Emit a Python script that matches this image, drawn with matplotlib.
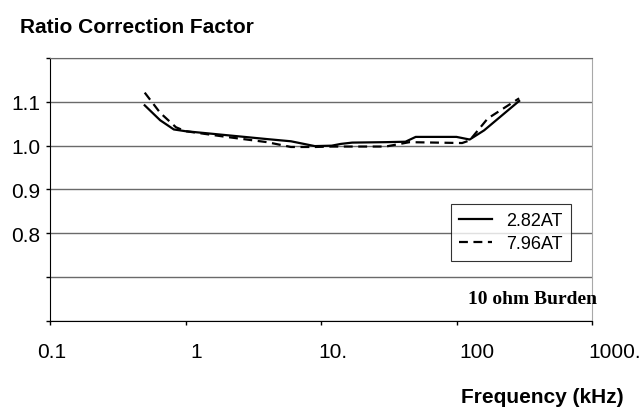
import matplotlib
matplotlib.use('Agg')
import matplotlib.pyplot as plt
from matplotlib.transforms import ScaledTranslation

# data
freq_a = [0.5, 0.65, 0.82, 1.0, 2.0, 4.0, 6.0, 9.0, 12, 14, 17, 30, 42, 50, 100, 125, 160, 290]
ratio_a = [1.092, 1.058, 1.037, 1.033, 1.024, 1.015, 1.010, 0.999, 1.000, 1.004, 1.007,
           1.008, 1.009, 1.020, 1.020, 1.014, 1.035, 1.102]

freq_b = [0.5, 0.65, 0.85, 1.0, 2.0, 4.0, 6.0, 9.0, 12, 30, 45, 110, 125, 170, 290]
ratio_b = [1.121, 1.075, 1.042, 1.033, 1.020, 1.008, 0.997, 0.997, 0.998, 0.998, 1.008,
           1.006, 1.012, 1.062, 1.108]

xticks = [0.1, 1, 10, 100, 1000]
xtick_labels = ['0.1', '1', '10.', '100', '1000.']
yticks = [0.6, 0.7, 0.8, 0.9, 1.0, 1.1, 1.2]
ytick_labels = ['', '', '0.8', '0.9', '1.0', '1.1', '']

plt.rcParams['font.family'] = ['Liberation Sans', 'DejaVu Sans']

fig = plt.figure(figsize=(6.42, 4.10), dpi=100)
ax = fig.add_axes([50/642, 1-322/410, 542/642, 263/410])

ax.plot(freq_a, ratio_a, color='black', lw=1.6, label='2.82AT')
ax.plot(freq_b, ratio_b, color='black', lw=1.6, dashes=(4, 2.5), label='7.96AT')

ax.set_xscale('log')
ax.set_xlim(0.1, 1000)
ax.set_ylim(0.6, 1.2)
ax.set_xticks(xticks)
ax.set_xticklabels(xtick_labels)
ax.minorticks_off()
ax.set_yticks(yticks)
ax.set_yticklabels(ytick_labels)
ax.tick_params(axis='both', labelsize=15, length=3, width=1, color='black')
ax.tick_params(axis='x', pad=12)
ax.tick_params(axis='y', pad=4)

# the labels in the original sit a bit right of their ticks
shift_px = [2, 11, 12, 20, 23]
for lab, dx in zip(ax.get_xticklabels(), shift_px):
    lab.set_transform(lab.get_transform() + ScaledTranslation(dx/100, 0, fig.dpi_scale_trans))

ax.grid(True, axis='y', color='#6a6a6a', lw=1)
ax.set_axisbelow(True)
ax.spines['top'].set_color('#6a6a6a')
ax.spines['right'].set_color('#a8a8a8')
ax.spines['left'].set_color('black')
ax.spines['bottom'].set_color('black')

leg = ax.legend(loc='upper left', bbox_to_anchor=(0.740, 0.445), borderaxespad=0,
                fontsize=13, frameon=True, fancybox=False, handlelength=1.8,
                borderpad=0.45, labelspacing=0.35)
leg.get_frame().set_edgecolor('black')
leg.get_frame().set_linewidth(0.8)

ax.text(0.891, 0.084, '10 ohm Burden', transform=ax.transAxes, ha='center', va='center',
        fontsize=14, fontweight='bold', family=['Liberation Serif', 'DejaVu Serif'])

fig.text(20/642, 1-27.5/410, 'Ratio Correction Factor', fontsize=15, fontweight='bold',
         ha='left', va='center')
fig.text(624/642, 1-398/410, 'Frequency (kHz)', fontsize=15, fontweight='bold',
         ha='right', va='center')

fig.savefig('out.png', dpi=100)
